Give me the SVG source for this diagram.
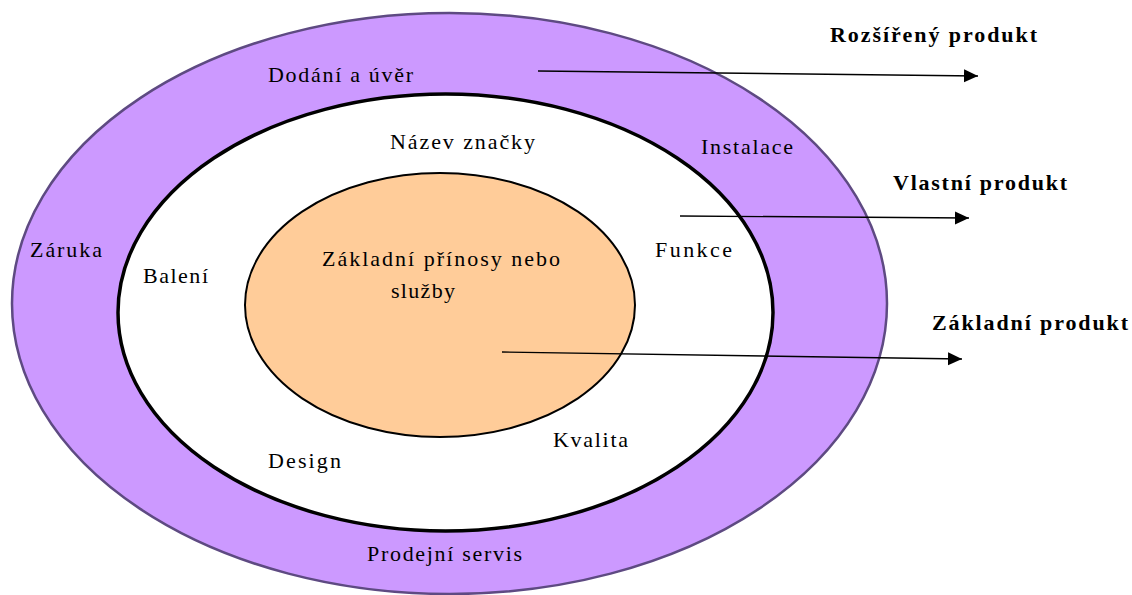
<svg xmlns="http://www.w3.org/2000/svg" width="1132" height="595" viewBox="0 0 1132 595">
<style>
.t{font-family:"Liberation Serif","Times New Roman",serif;font-size:22px;fill:#000}
.b{font-family:"Liberation Serif","Times New Roman",serif;font-size:22px;font-weight:bold;fill:#000}
.con{stroke:#000;stroke-width:1.4;fill:none}
</style>
<defs>
<marker id="ah" markerUnits="userSpaceOnUse" markerWidth="16" markerHeight="14" refX="14" refY="6.5" orient="auto">
<path d="M0,0 L14,6.5 L0,13 z" fill="#000"/>
</marker>
</defs>
<rect width="1132" height="595" fill="#fff"/>
<g id="outer">
<ellipse cx="449.5" cy="303.5" rx="437.5" ry="290.5" fill="#CC99FF" stroke="#5E4A82" stroke-width="2.5"/>
<text class="t" x="268" y="82" textLength="145" lengthAdjust="spacing">Dodání a úvěr</text>
<text class="t" x="701" y="154" textLength="92" lengthAdjust="spacing">Instalace</text>
<text class="t" x="30" y="257" textLength="72" lengthAdjust="spacing">Záruka</text>
<text class="t" x="367" y="561" textLength="155" lengthAdjust="spacing">Prodejní servis</text>
</g>
<g id="middle">
<ellipse cx="445.5" cy="312.5" rx="327.5" ry="218.5" fill="#fff" stroke="#000" stroke-width="3.5"/>
<text class="t" x="390" y="149" textLength="145" lengthAdjust="spacing">Název značky</text>
<text class="t" x="143" y="283" textLength="65" lengthAdjust="spacing">Balení</text>
<text class="t" x="655" y="257" textLength="77" lengthAdjust="spacing">Funkce</text>
<text class="t" x="268" y="468" textLength="73" lengthAdjust="spacing">Design</text>
<text class="t" x="553" y="447" textLength="75" lengthAdjust="spacing">Kvalita</text>
</g>
<g id="inner">
<ellipse cx="440" cy="305" rx="195" ry="132" fill="#FFCC99" stroke="#000" stroke-width="2"/>
<text class="t" x="322" y="266" textLength="238" lengthAdjust="spacing">Základní přínosy nebo</text>
<text class="t" x="391" y="298" textLength="64" lengthAdjust="spacing">služby</text>
</g>
<g id="connectors">
<line class="con" x1="538" y1="71" x2="978" y2="76" marker-end="url(#ah)"/>
<line class="con" x1="680" y1="216" x2="969" y2="218" marker-end="url(#ah)"/>
<line class="con" x1="502" y1="352" x2="962" y2="359" marker-end="url(#ah)"/>
</g>
<g id="labels">
<text class="b" x="830" y="42" textLength="207" lengthAdjust="spacing">Rozšířený produkt</text>
<text class="b" x="893" y="190" textLength="174" lengthAdjust="spacing">Vlastní produkt</text>
<text class="b" x="932" y="330" textLength="196" lengthAdjust="spacing">Základní produkt</text>
</g>
</svg>
